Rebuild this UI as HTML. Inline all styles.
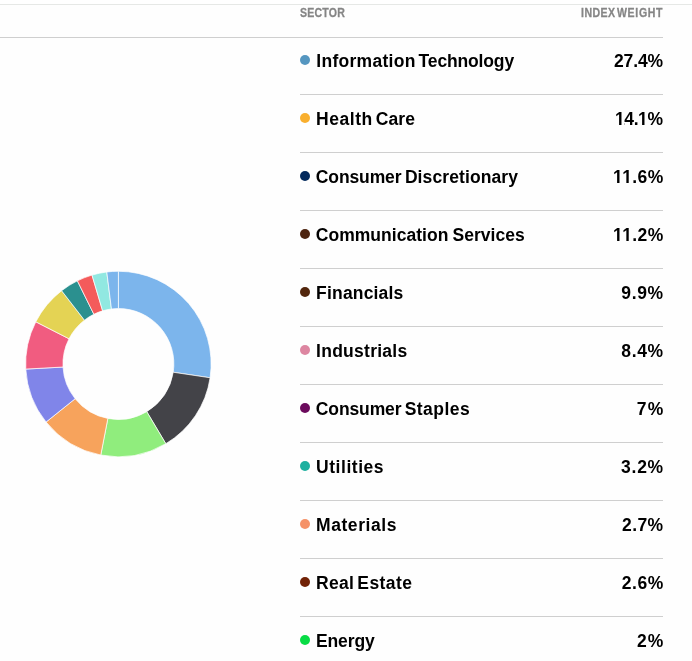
<!DOCTYPE html>
<html lang="en">
<head>
<meta charset="utf-8">
<title>Sector Breakdown</title>
<style>
html,body{margin:0;padding:0;background:#fefefe;}
body{width:692px;height:661px;overflow:hidden;position:relative;font-family:"Liberation Sans",Arial,Helvetica,sans-serif;color:#000;}
.cap{position:absolute;left:0;top:0;width:692px;height:4px;background:#fff;border-bottom:1px solid #e6e8e6;}
.thead{position:absolute;left:0;top:5px;width:663px;height:32px;border-bottom:1px solid #cfcfcf;}
.chart{position:absolute;left:0;top:240px;width:240px;height:240px;}
.chart svg{display:block;}
.tbody{position:absolute;left:300px;top:38px;width:363px;}
.row{position:absolute;left:0;width:363px;height:57px;border-top:1px solid #cfcfcf;}
.row.first{height:56px;border-top:0;}
.dot{position:absolute;left:0;width:10px;height:10px;border-radius:50%;}
.w{position:absolute;white-space:nowrap;font-weight:bold;}
.n,.v{font-size:17.5px;line-height:24px;}
.h{font-size:12.0px;line-height:14px;color:#858585;transform:scaleX(0.88);transform-origin:0 0;-webkit-text-stroke:0.28px #858585;}
.p{position:absolute;height:2px;background:#fefefe;}
</style>
</head>
<body>
<div class="cap"></div>
<div class="thead">
<span class="w h" id="h0" style="left:299.81px;top:0.84px;letter-spacing:0.237px">SECTOR</span>
<span class="w h" id="h1" style="left:580.69px;top:0.84px;letter-spacing:0.510px">INDEX</span>
<span class="w h" id="h2" style="left:617.08px;top:0.84px;letter-spacing:0.744px">WEIGHT</span>
</div>

<div class="chart">
<svg width="240" height="240" viewBox="0 240 240 240" role="img" aria-label="Sector breakdown donut chart">
<g stroke="#ffffff" stroke-width="0.7" stroke-linejoin="round">
<path fill="#7cb5ec" d="M118.40 271.25A92.75 92.75 0 0 1 210.12 377.78L173.23 372.24A55.45 55.45 0 0 0 118.40 308.55Z"/>
<path fill="#434348" d="M210.12 377.78A92.75 92.75 0 0 1 165.82 443.71L146.75 411.65A55.45 55.45 0 0 0 173.23 372.24Z"/>
<path fill="#90ed7d" d="M165.82 443.71A92.75 92.75 0 0 1 100.75 455.06L107.85 418.44A55.45 55.45 0 0 0 146.75 411.65Z"/>
<path fill="#f7a35c" d="M100.75 455.06A92.75 92.75 0 0 1 46.07 422.06L75.16 398.71A55.45 55.45 0 0 0 107.85 418.44Z"/>
<path fill="#8085e9" d="M46.07 422.06A92.75 92.75 0 0 1 25.79 369.09L63.03 367.04A55.45 55.45 0 0 0 75.16 398.71Z"/>
<path fill="#f15c80" d="M25.79 369.09A92.75 92.75 0 0 1 35.81 321.80L69.02 338.77A55.45 55.45 0 0 0 63.03 367.04Z"/>
<path fill="#e4d354" d="M35.81 321.80A92.75 92.75 0 0 1 61.60 290.68L84.44 320.16A55.45 55.45 0 0 0 69.02 338.77Z"/>
<path fill="#2b908f" d="M61.60 290.68A92.75 92.75 0 0 1 77.37 280.82L93.87 314.27A55.45 55.45 0 0 0 84.44 320.16Z"/>
<path fill="#f45b5b" d="M77.37 280.82A92.75 92.75 0 0 1 91.99 275.09L102.61 310.85A55.45 55.45 0 0 0 93.87 314.27Z"/>
<path fill="#91e8e1" d="M91.99 275.09A92.75 92.75 0 0 1 106.79 271.98L111.46 308.99A55.45 55.45 0 0 0 102.61 310.85Z"/>
<path fill="#7cb5ec" d="M106.79 271.98A92.75 92.75 0 0 1 118.40 271.25L118.40 308.55A55.45 55.45 0 0 0 111.46 308.99Z"/>
</g>
</svg>
</div>

<div class="tbody">
<div class="row first" style="top:0px">
<i class="dot" style="top:17px;background:#5596c0"></i>
<span class="w n" id="r0n0" style="left:16.36px;top:10.94px;letter-spacing:0.272px">Information</span>
<span class="w n" id="r0n1" style="left:118.56px;top:10.94px;letter-spacing:-0.145px">Technology</span>
<span class="w v" id="r0v" style="left:313.94px;top:10.94px;letter-spacing:-0.109px">27.4%</span>
</div>
<div class="row" style="top:56px">
<i class="dot" style="top:18px;background:#f9af2e"></i>
<span class="w n" id="r1n0" style="left:16.12px;top:11.94px;letter-spacing:0.537px">Health</span>
<span class="w n" id="r1n1" style="left:75.69px;top:11.94px;letter-spacing:0.155px">Care</span>
<span class="w v" id="r1v" style="left:314.91px;top:11.94px;letter-spacing:-0.372px">14.1%</span>
<i class="p" style="left:316px;top:28px;width:3px"></i>
<i class="p" style="left:319px;top:28px;width:1px;opacity:0.09"></i>
<i class="p" style="left:321px;top:28px;width:1px;opacity:0.52"></i>
<i class="p" style="left:322px;top:28px;width:2px"></i>
<i class="p" style="left:339px;top:28px;width:3px"></i>
<i class="p" style="left:342px;top:28px;width:1px;opacity:0.09"></i>
<i class="p" style="left:344px;top:28px;width:1px;opacity:0.52"></i>
<i class="p" style="left:345px;top:28px;width:3px"></i>
</div>
<div class="row" style="top:114px">
<i class="dot" style="top:18px;background:#03295c"></i>
<span class="w n" id="r2n0" style="left:15.86px;top:11.94px;letter-spacing:-0.130px">Consumer</span>
<span class="w n" id="r2n1" style="left:104.88px;top:11.94px;letter-spacing:0.106px">Discretionary</span>
<span class="w v" id="r2v" style="left:313.12px;top:11.94px;letter-spacing:0.360px">11.6%</span>
<i class="p" style="left:314px;top:28px;width:3px"></i>
<i class="p" style="left:317px;top:28px;width:1px;opacity:0.09"></i>
<i class="p" style="left:319px;top:28px;width:1px;opacity:0.52"></i>
<i class="p" style="left:320px;top:28px;width:4px"></i>
<i class="p" style="left:321px;top:28px;width:5px"></i>
<i class="p" style="left:326px;top:28px;width:1px;opacity:0.35"></i>
<i class="p" style="left:328px;top:28px;width:1px;opacity:0.28"></i>
<i class="p" style="left:329px;top:28px;width:3px"></i>
</div>
<div class="row" style="top:172px">
<i class="dot" style="top:18px;background:#4d2410"></i>
<span class="w n" id="r3n0" style="left:15.74px;top:11.94px;letter-spacing:0.037px">Communication</span>
<span class="w n" id="r3n1" style="left:152.44px;top:11.94px;letter-spacing:0.028px">Services</span>
<span class="w v" id="r3v" style="left:313.12px;top:11.94px;letter-spacing:0.360px">11.2%</span>
<i class="p" style="left:314px;top:28px;width:3px"></i>
<i class="p" style="left:317px;top:28px;width:1px;opacity:0.09"></i>
<i class="p" style="left:319px;top:28px;width:1px;opacity:0.52"></i>
<i class="p" style="left:320px;top:28px;width:4px"></i>
<i class="p" style="left:321px;top:28px;width:5px"></i>
<i class="p" style="left:326px;top:28px;width:1px;opacity:0.35"></i>
<i class="p" style="left:328px;top:28px;width:1px;opacity:0.28"></i>
<i class="p" style="left:329px;top:28px;width:3px"></i>
</div>
<div class="row" style="top:230px">
<i class="dot" style="top:18px;background:#52260d"></i>
<span class="w n" id="r4n0" style="left:16.12px;top:11.94px;letter-spacing:0.177px">Financials</span>
<span class="w v" id="r4v" style="left:321.34px;top:11.94px;letter-spacing:0.609px">9.9%</span>
</div>
<div class="row" style="top:288px">
<i class="dot" style="top:18px;background:#dd86a1"></i>
<span class="w n" id="r5n0" style="left:16.11px;top:11.94px;letter-spacing:0.255px">Industrials</span>
<span class="w v" id="r5v" style="left:321.36px;top:11.94px;letter-spacing:0.605px">8.4%</span>
</div>
<div class="row" style="top:346px">
<i class="dot" style="top:18px;background:#6b0a5c"></i>
<span class="w n" id="r6n0" style="left:15.86px;top:11.94px;letter-spacing:-0.130px">Consumer</span>
<span class="w n" id="r6n1" style="left:104.67px;top:11.94px;letter-spacing:0.459px">Staples</span>
<span class="w v" id="r6v" style="left:336.75px;top:11.94px;letter-spacing:1.147px">7%</span>
</div>
<div class="row" style="top:404px">
<i class="dot" style="top:18px;background:#1db09f"></i>
<span class="w n" id="r7n0" style="left:16.05px;top:11.94px;letter-spacing:0.536px">Utilities</span>
<span class="w v" id="r7v" style="left:321.11px;top:11.94px;letter-spacing:0.724px">3.2%</span>
</div>
<div class="row" style="top:462px">
<i class="dot" style="top:18px;background:#f59268"></i>
<span class="w n" id="r8n0" style="left:15.97px;top:11.94px;letter-spacing:0.585px">Materials</span>
<span class="w v" id="r8v" style="left:322.12px;top:11.94px;letter-spacing:0.339px">2.7%</span>
</div>
<div class="row" style="top:520px">
<i class="dot" style="top:18px;background:#712206"></i>
<span class="w n" id="r9n0" style="left:16px;top:11.94px;letter-spacing:0.284px">Real</span>
<span class="w n" id="r9n1" style="left:57.36px;top:11.94px;letter-spacing:0.419px">Estate</span>
<span class="w v" id="r9v" style="left:321.72px;top:11.94px;letter-spacing:0.592px">2.6%</span>
</div>
<div class="row" style="top:578px">
<i class="dot" style="top:18px;background:#08dc45"></i>
<span class="w n" id="r10n0" style="left:15.88px;top:11.94px;letter-spacing:-0.093px">Energy</span>
<span class="w v" id="r10v" style="left:336.93px;top:11.94px;letter-spacing:1.007px">2%</span>
</div>
</div>
</body>
</html>
